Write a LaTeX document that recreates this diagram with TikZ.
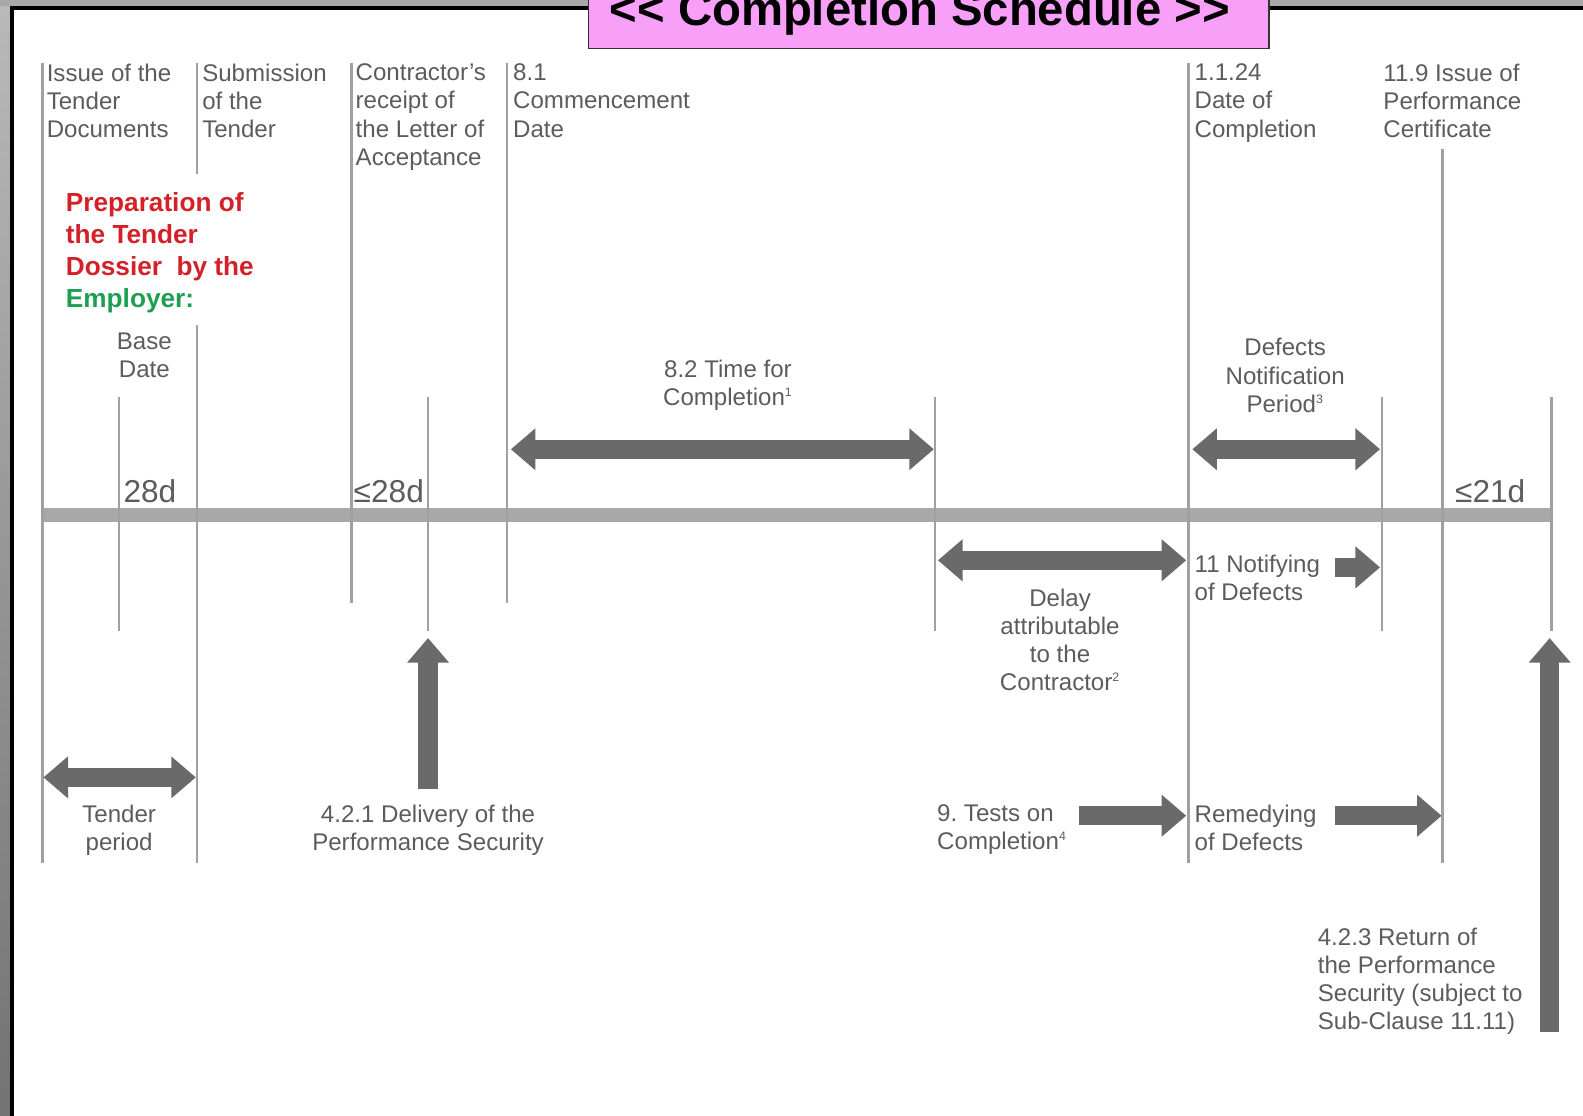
\documentclass[tikz,border=0pt]{standalone}
\usepackage{fontspec}
\setmainfont{Liberation Sans}
\usetikzlibrary{arrows.meta}
\definecolor{txtgray}{HTML}{5C5C5C}
\definecolor{linegray}{HTML}{A0A0A0}
\definecolor{bargray}{HTML}{A8A8A8}
\definecolor{arrowgray}{HTML}{6A6A6A}
\definecolor{framegray}{HTML}{A8A8A8}
\definecolor{titlepink}{HTML}{F8A0F8}
\definecolor{prepred}{HTML}{D42027}
\definecolor{empgreen}{HTML}{1E9E52}
\newcommand{\fnmark}[1]{\textsuperscript{\scriptsize #1}}

\begin{document}
\frenchspacing
\begin{tikzpicture}[x=0.020191cm,y=-0.020191cm,
    lbl/.style={inner sep=0pt,text=txtgray,font=\fontsize{13.7}{16}\selectfont},
    lblc/.style={lbl,align=center,anchor=north},
    lbll/.style={lbl,align=left,anchor=north west},
    days/.style={inner sep=0pt,anchor=base west,text=txtgray,font=\fontsize{18}{20}\selectfont},
    tick/.style={draw=linegray,line width=1.4pt},
    fat/.style={draw=arrowgray,line width=10.9pt,-{Triangle[length=14pt,width=23pt]}},
    fatboth/.style={fat,{Triangle[length=14pt,width=23pt]}-{Triangle[length=14pt,width=23pt]}}]
    \useasboundingbox (0,0) rectangle (1568,1105);
    \clip (0,0) rectangle (1568,1105);

    % frame
    \shade[top color=framegray!80,bottom color=black!55] (0,0) rectangle (10,1105);
    \fill[framegray] (0,0) rectangle (1568,6);
    \draw[black,line width=2.3pt] (12,1105) -- (12,8) -- (1568,8);

    % title
    \draw[fill=titlepink,draw=black!80,line width=1pt] (583,-30) rectangle (1257,48);
    \node[inner sep=0pt,anchor=base,font=\fontsize{26.9}{30}\selectfont\bfseries] (title) at (911,25) {{<}{<} Completion Schedule {>}{>}};

    % time line
    \draw[bargray,line width=8pt] (42,510) -- (1537,510);

    \draw[tick] (42,62) -- (42,855);
    \draw[tick] (195,62) -- (195,172);
    \draw[tick] (195,322) -- (195,855);
    \draw[tick] (348,62) -- (348,597);
    \draw[tick] (502,62) -- (502,597);
    \draw[tick] (118,393) -- (118,625);
    \draw[tick] (424,393) -- (424,625);
    \draw[tick] (926,393) -- (926,625);
    \draw[tick] (1177,62) -- (1177,855);
    \draw[tick] (1369,393) -- (1369,625);
    \draw[tick] (1429,148) -- (1429,855);
    \draw[tick] (1537,393) -- (1537,625);

    % milestones
    \node[lbll] (issue) at (46,63) {Issue of the\\Tender\\Documents};
    \node[lbll] (submit) at (200,63) {Submission\\of the\\Tender};
    \node[lbll] (receipt) at (352,63) {Contractor’s\\receipt of\\the Letter of\\Acceptance};
    \node[lbll] (commence) at (508,63) {8.1\\Commencement\\Date};
    \node[lbll] (complete) at (1183,63) {1.1.24\\Date of\\Completion};
    \node[lbll] (perfcert) at (1370,63) {11.9 Issue of\\Performance\\Certificate};

    \node[inner sep=0pt,align=left,anchor=north west,text=prepred,font=\fontsize{14.9}{18.3}\selectfont\bfseries] (prep) at (65,190) {Preparation of\\the Tender\\Dossier\ \ by the\\{\color{empgreen}Employer:}};

    \node[lblc] (base) at (143,329) {Base\\Date};
    \node[lblc] (timefor) at (721,356) {8.2 Time for\\Completion\fnmark{1}};
    \node[lblc] (dnp) at (1273,335) {Defects\\Notification\\Period\fnmark{3}};

    \node[days] (d28) at (122,498) {28d};
    \node[days] (le28) at (350,498) {≤28d};
    \node[days] (le21) at (1441,498) {≤21d};

    \node[lbll] (notify) at (1183,549) {11 Notifying\\of Defects};
    \node[lblc] (delay) at (1050,583) {Delay\\attributable\\to the\\Contractor\fnmark{2}};
    \node[lblc] (tperiod) at (118,797) {Tender\\period};
    \node[lblc] (delivery) at (424,797) {4.2.1 Delivery of the\\Performance Security};
    \node[lbll] (tests) at (928,797) {9. Tests on\\Completion\fnmark{4}};
    \node[lbll] (remedy) at (1183,797) {Remedying\\of Defects};
    \node[lbll] (return) at (1305,919) {4.2.3 Return of\\the Performance\\Security (subject to\\Sub-Clause 11.11)};

    % arrow ends
    \coordinate (tfcA) at (506,445);
    \coordinate (tfcB) at (925,445);
    \coordinate (dnpA) at (1181,445);
    \coordinate (dnpB) at (1367,445);
    \coordinate (delA) at (929,555);
    \coordinate (delB) at (1175,555);
    \coordinate (tenA) at (43,770);
    \coordinate (tenB) at (194,770);
    \coordinate (notA) at (1322,562);
    \coordinate (notB) at (1367,562);
    \coordinate (tstA) at (1069,808);
    \coordinate (tstB) at (1175,808);
    \coordinate (remA) at (1322,808);
    \coordinate (remB) at (1428,808);
    \coordinate (secA) at (424,782);
    \coordinate (secB) at (424,632);
    \coordinate (retA) at (1535,1022);
    \coordinate (retB) at (1535,632);

    \draw[fatboth] (tfcA) -- (tfcB);
    \draw[fatboth] (dnpA) -- (dnpB);
    \draw[fatboth] (delA) -- (delB);
    \draw[fatboth] (tenA) -- (tenB);
    \draw[fat] (notA) -- (notB);
    \draw[fat] (tstA) -- (tstB);
    \draw[fat] (remA) -- (remB);
    \draw[fat] (secA) -- (secB);
    \draw[fat] (retA) -- (retB);
\end{tikzpicture}
\end{document}
